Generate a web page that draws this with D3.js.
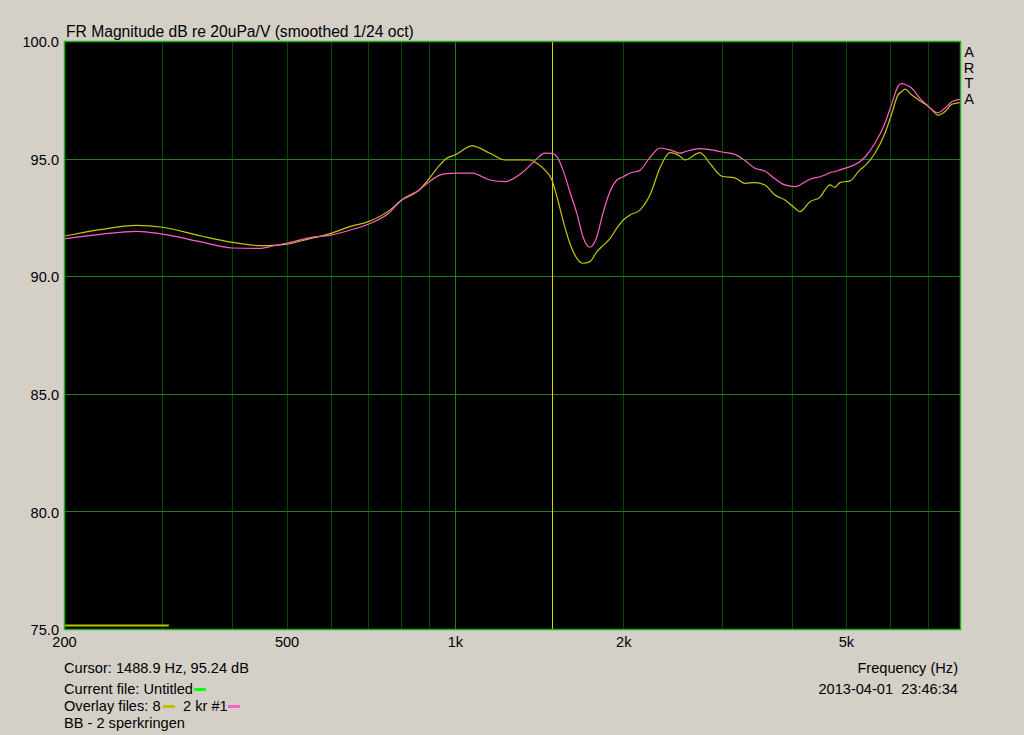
<!DOCTYPE html>
<html>
<head>
<meta charset="utf-8">
<script src="https://cdn.jsdelivr.net/npm/d3@7"></script>
<style>
  html, body { margin: 0; padding: 0; background: #d4d0c8; }
  svg { display: block; }
  text { font-family: "Liberation Sans", Arial, sans-serif; fill: #000; white-space: pre; }
</style>
</head>
<body>
<svg id="chart" width="1024" height="735"></svg>
<script>
// ---------- data ----------
const freqHz = [200,232,270,300,350,400,448,477,500,551,600,649,700,765,800,866,900,940,967,1000,
  1073,1155,1229,1307,1362,1401,1448,1491,1522,1560,1605,1652,1694,1743,1794,1839,1893,1948,2000,2055,
  2141,2232,2326,2424,2526,2578,2742,2857,3002,3166,3300,3439,3583,3734,3891,4055,4139,4313,4494,4586,
  4682,4779,4879,5085,5298,5430,5636,5873,6044,6194,6296,6375,6562,6781,7009,7212,7302,7515,7736,7994];

const overlay8Db = [91.70,91.98,92.16,92.08,91.72,91.44,91.30,91.31,91.36,91.60,91.82,92.11,92.32,92.81,93.21,93.69,94.16,94.73,95.01,95.15,
  95.54,95.23,94.94,94.94,94.94,94.80,94.52,94.09,93.38,92.39,91.40,90.76,90.55,90.62,91.04,91.30,91.60,92.04,92.39,92.60,
  92.81,93.45,94.60,95.25,95.10,94.94,95.25,94.80,94.25,94.18,93.95,93.98,93.88,93.45,93.24,92.89,92.74,93.17,93.35,93.66,
  93.88,93.78,93.98,94.05,94.52,94.73,95.23,96.08,96.93,97.70,97.85,97.95,97.70,97.46,97.24,96.95,96.85,96.99,97.31,97.38];

const overlay2krDb = [91.59,91.78,91.91,91.79,91.47,91.20,91.18,91.31,91.40,91.64,91.75,91.96,92.21,92.72,93.21,93.69,94.02,94.30,94.36,94.38,
  94.38,94.09,94.02,94.33,94.70,95.00,95.23,95.22,95.08,94.52,93.59,92.67,91.68,91.23,91.68,92.67,93.59,94.09,94.23,94.38,
  94.50,95.05,95.45,95.37,95.23,95.29,95.42,95.38,95.28,95.18,94.92,94.59,94.47,94.14,93.88,93.81,93.88,94.12,94.23,94.30,
  94.40,94.45,94.52,94.66,94.87,95.11,95.65,96.50,97.35,98.06,98.20,98.15,97.99,97.56,97.24,96.99,96.95,97.14,97.42,97.52];

const markerFreqs = [200, 308];
const markerDb = 75.15;

const cursorHz = 1488.9;
const yTicks = [75, 80, 85, 90, 95, 100];
const xTickValues = [200, 500, 1000, 2000, 5000];
const xTickLabels = ["200", "500", "1k", "2k", "5k"];
const gridFreqs = [300,400,500,600,700,800,900,1000,2000,3000,4000,5000,6000,7000];
const majorGridFreqs = [1000];

// ---------- layout ----------
(function () {
const svg = d3.select("#chart");
const pL = 64, pR = 960, pT = 41, pB = 629;
const fs = 14.6;
const x = d3.scaleLog().domain([200, 8000]).range([pL, pR]);
const y = d3.scaleLinear().domain([75, 100]).range([pB, pT]);

svg.append("rect").attr("width", 1024).attr("height", 735).attr("fill", "#d4d0c8");
svg.append("rect").attr("x", pL).attr("y", pT).attr("width", pR - pL).attr("height", pB - pT).attr("fill", "#000");

// grid
const g = svg.append("g");
g.selectAll("line.v").data(gridFreqs).join("line")
  .attr("x1", d => Math.round(x(d)) + 0.5).attr("x2", d => Math.round(x(d)) + 0.5)
  .attr("y1", pT).attr("y2", pB)
  .attr("stroke", d => majorGridFreqs.includes(d) ? "#1f7f1f" : "#004a00").attr("stroke-width", 1);
g.selectAll("line.h").data(yTicks.filter(t => t > 75 && t < 100)).join("line")
  .attr("x1", pL).attr("x2", pR)
  .attr("y1", d => Math.round(y(d)) + 0.5).attr("y2", d => Math.round(y(d)) + 0.5)
  .attr("stroke", "#1f7f1f").attr("stroke-width", 1);

// cursor
svg.append("line")
  .attr("x1", Math.round(x(cursorHz)) + 0.5).attr("x2", Math.round(x(cursorHz)) + 0.5)
  .attr("y1", pT).attr("y2", pB)
  .attr("stroke", "#d8d800").attr("stroke-width", 1);

// marker segment at bottom
svg.append("line")
  .attr("x1", x(markerFreqs[0])).attr("x2", x(markerFreqs[1]))
  .attr("y1", y(markerDb)).attr("y2", y(markerDb))
  .attr("stroke", "#c0c000").attr("stroke-width", 2);

// curves
const line = d3.line().x(d => x(d[0])).y(d => y(d[1])).curve(d3.curveMonotoneX);
svg.append("path").datum(freqHz.map((f, i) => [f, overlay8Db[i]]))
  .attr("d", line).attr("fill", "none").attr("stroke", "#c8c800").attr("stroke-width", 1.2);
svg.append("path").datum(freqHz.map((f, i) => [f, overlay2krDb[i]]))
  .attr("d", line).attr("fill", "none").attr("stroke", "#ff60c8").attr("stroke-width", 1.2);

// border
svg.append("rect").attr("x", pL + 0.5).attr("y", pT + 0.5).attr("width", pR - pL).attr("height", pB - pT)
  .attr("fill", "none").attr("stroke", "#1fb01f").attr("stroke-width", 1.5);

// axes labels
const yAxis = d3.axisLeft(y).tickValues(yTicks).tickFormat(d3.format(".1f")).tickSize(0).tickPadding(5);
const ya = svg.append("g").attr("transform", `translate(${pL},1)`).call(yAxis);
ya.select(".domain").remove();
ya.selectAll("text").attr("font-size", fs).attr("font-family", "Liberation Sans, Arial, sans-serif").attr("fill", "#000");

const xAxis = d3.axisBottom(x).tickValues(xTickValues).tickFormat((d, i) => xTickLabels[i]).tickSize(0).tickPadding(8);
const xa = svg.append("g").attr("transform", `translate(0,${pB})`).call(xAxis);
xa.select(".domain").remove();
xa.selectAll("text").attr("font-size", fs).attr("font-family", "Liberation Sans, Arial, sans-serif").attr("fill", "#000");

// title
svg.append("text").attr("x", 66).attr("y", 37).attr("font-size", 15.65).text("FR Magnitude dB re 20uPa/V (smoothed 1/24 oct)");

// ARTA
["A","R","T","A"].forEach((c, i) => {
  svg.append("text").attr("x", 969).attr("y", 57 + i * 15.5).attr("text-anchor", "middle").attr("font-size", fs).text(c);
});

// bottom info
svg.append("text").attr("x", 64).attr("y", 673).attr("font-size", fs).text("Cursor: 1488.9 Hz, 95.24 dB");
svg.append("text").attr("x", 64).attr("y", 694).attr("font-size", fs).text("Current file: Untitled");
svg.append("rect").attr("x", 194).attr("y", 688).attr("width", 12).attr("height", 3).attr("fill", "#00ff00");
svg.append("text").attr("x", 64).attr("y", 711).attr("font-size", fs).text("Overlay files: 8");
svg.append("rect").attr("x", 163).attr("y", 705).attr("width", 12).attr("height", 3).attr("fill", "#c0c000");
svg.append("text").attr("x", 183).attr("y", 711).attr("font-size", fs).text("2 kr #1");
svg.append("rect").attr("x", 228).attr("y", 705).attr("width", 12).attr("height", 3).attr("fill", "#ff60c8");
svg.append("text").attr("x", 64).attr("y", 728).attr("font-size", fs).text("BB - 2 sperkringen");

svg.append("text").attr("x", 958).attr("y", 673).attr("text-anchor", "end").attr("font-size", fs).text("Frequency (Hz)");
svg.append("text").attr("x", 958).attr("y", 694).attr("text-anchor", "end").attr("font-size", fs).text("2013-04-01  23:46:34");
})();
</script>
</body>
</html>
